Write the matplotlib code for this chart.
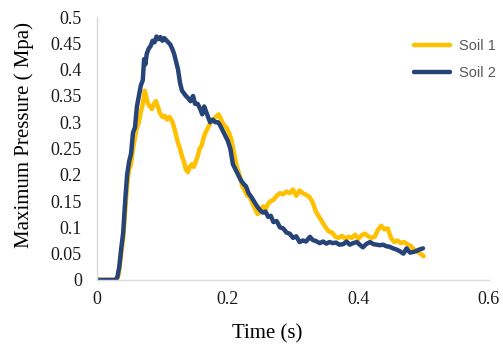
import matplotlib
matplotlib.use("Agg")
import matplotlib.pyplot as plt
from matplotlib.ticker import FuncFormatter

# ---- data ----
soil1_t = [0, 0.02, 0.03, 0.033, 0.036, 0.04, 0.043, 0.046, 0.049, 0.052, 0.055, 0.058, 0.061,
           0.064, 0.067, 0.07, 0.073, 0.075, 0.078, 0.081, 0.084, 0.087, 0.09, 0.093, 0.096,
           0.1, 0.104, 0.107, 0.111, 0.115, 0.118, 0.121, 0.124, 0.127, 0.13, 0.133, 0.136,
           0.139, 0.142, 0.145, 0.148, 0.151, 0.154, 0.157, 0.16, 0.163, 0.166, 0.17, 0.174,
           0.178, 0.182, 0.186, 0.19, 0.194, 0.198, 0.202, 0.206, 0.21, 0.214, 0.218, 0.222,
           0.226, 0.23, 0.234, 0.238, 0.242, 0.246, 0.25, 0.254, 0.258, 0.262, 0.266, 0.27,
           0.275, 0.28, 0.285, 0.29, 0.295, 0.3, 0.305, 0.31, 0.315, 0.32, 0.325, 0.33, 0.335,
           0.34, 0.345, 0.35, 0.355, 0.36, 0.365, 0.37, 0.375, 0.38, 0.385, 0.39, 0.395, 0.4,
           0.405, 0.41, 0.415, 0.42, 0.425, 0.43, 0.435, 0.44, 0.445, 0.45, 0.455, 0.46, 0.465,
           0.47, 0.475, 0.48, 0.485, 0.49, 0.495, 0.5]
soil1_p = [0, 0, 0, 0.01, 0.04, 0.08, 0.13, 0.18, 0.21, 0.22, 0.25, 0.27, 0.29,
           0.30, 0.32, 0.335, 0.36, 0.35, 0.335, 0.33, 0.325, 0.335, 0.34, 0.33, 0.318,
           0.31, 0.312, 0.305, 0.31, 0.302, 0.29, 0.275, 0.26, 0.25, 0.235, 0.225, 0.21,
           0.205, 0.215, 0.22, 0.215, 0.225, 0.235, 0.25, 0.255, 0.27, 0.28, 0.29, 0.30,
           0.305, 0.31, 0.315, 0.305, 0.295, 0.29, 0.28, 0.265, 0.24, 0.215, 0.2, 0.18,
           0.17, 0.16, 0.158, 0.145, 0.135, 0.125, 0.13, 0.14, 0.135, 0.145, 0.15, 0.152,
           0.16, 0.165, 0.163, 0.168, 0.165, 0.172, 0.16, 0.17, 0.165, 0.162, 0.158, 0.148, 0.13,
           0.12, 0.11, 0.1, 0.092, 0.09, 0.082, 0.08, 0.084, 0.078, 0.082, 0.08, 0.086, 0.078,
           0.085, 0.088, 0.083, 0.08, 0.082, 0.095, 0.103, 0.096, 0.098, 0.08, 0.072, 0.075, 0.07,
           0.072, 0.068, 0.065, 0.058, 0.055, 0.05, 0.045]

soil2_t = [0, 0.01, 0.02, 0.028, 0.031, 0.034, 0.037, 0.04, 0.043, 0.046, 0.049, 0.052, 0.055,
           0.058, 0.061, 0.064, 0.067, 0.07, 0.072, 0.074, 0.076, 0.079, 0.082, 0.085, 0.088,
           0.091, 0.094, 0.097, 0.1, 0.103, 0.106, 0.109, 0.112, 0.115, 0.118, 0.121, 0.124,
           0.127, 0.13, 0.133, 0.136, 0.14, 0.143, 0.147, 0.15, 0.154, 0.158, 0.161, 0.164,
           0.167, 0.17, 0.173, 0.177, 0.181, 0.185, 0.188, 0.192, 0.196, 0.2, 0.204, 0.208,
           0.212, 0.216, 0.22, 0.224, 0.228, 0.232, 0.236, 0.24, 0.245, 0.25, 0.254, 0.258,
           0.262, 0.266, 0.27, 0.275, 0.28, 0.285, 0.29, 0.295, 0.3, 0.305, 0.31, 0.315, 0.32,
           0.326, 0.33, 0.335, 0.341, 0.346, 0.351, 0.356, 0.361, 0.366, 0.371, 0.377, 0.382,
           0.387, 0.392, 0.398, 0.403, 0.407, 0.412, 0.418, 0.423, 0.428, 0.433, 0.438, 0.443,
           0.448, 0.453, 0.458, 0.463, 0.469, 0.474, 0.479, 0.484, 0.489, 0.494, 0.499]
soil2_p = [0, 0, 0, 0, 0.005, 0.025, 0.06, 0.09, 0.15, 0.2, 0.225, 0.24, 0.28,
           0.29, 0.33, 0.35, 0.37, 0.38, 0.42, 0.41, 0.43, 0.44, 0.445, 0.455, 0.452,
           0.463, 0.458, 0.462, 0.455, 0.46, 0.456, 0.452, 0.448, 0.44, 0.43, 0.415, 0.40,
           0.375, 0.36, 0.355, 0.35, 0.345, 0.34, 0.35, 0.335, 0.335, 0.325, 0.315, 0.33,
           0.32, 0.31, 0.30, 0.305, 0.30, 0.30, 0.295, 0.285, 0.275, 0.265, 0.25, 0.22,
           0.21, 0.20, 0.19, 0.183, 0.178, 0.165, 0.158, 0.15, 0.14, 0.132, 0.128, 0.13,
           0.12, 0.122, 0.11, 0.112, 0.1, 0.098, 0.09, 0.088, 0.08, 0.083, 0.072, 0.075, 0.073,
           0.082, 0.076, 0.074, 0.07, 0.073, 0.069, 0.072, 0.07, 0.071, 0.067, 0.068, 0.073,
           0.067, 0.07, 0.072, 0.066, 0.062, 0.068, 0.072, 0.068, 0.067, 0.066, 0.067, 0.064,
           0.063, 0.06, 0.058, 0.055, 0.05, 0.06, 0.052, 0.053, 0.055, 0.058, 0.06]

x_ticks = [0, 0.2, 0.4, 0.6]
y_ticks = [0, 0.05, 0.1, 0.15, 0.2, 0.25, 0.3, 0.35, 0.4, 0.45, 0.5]
series_names = ["Soil 1", "Soil 2"]

# ---- figure ----
fig = plt.figure(figsize=(5.03, 3.49), dpi=100)
ax = fig.add_axes([0.193, 0.198, 0.779, 0.753])

ax.plot(soil1_t, soil1_p, color="#FFC000", lw=3.2, label=series_names[0],
        solid_joinstyle="round", solid_capstyle="round")
ax.plot(soil2_t, soil2_p, color="#264478", lw=3.2, label=series_names[1],
        solid_joinstyle="round", solid_capstyle="round")

ax.set_xlim(0, 0.6)
ax.set_ylim(0, 0.5)
ax.set_xticks(x_ticks)
ax.set_yticks(y_ticks)
fmt = FuncFormatter(lambda v, p: f"{v:g}")
ax.xaxis.set_major_formatter(fmt)
ax.yaxis.set_major_formatter(fmt)
ax.tick_params(length=0, labelsize=13, labelcolor="#1a1a1a")
ax.tick_params(axis="x", pad=8)
ax.tick_params(axis="y", pad=11)
for lbl in ax.get_xticklabels() + ax.get_yticklabels():
    lbl.set_fontfamily("Liberation Serif")

for s in ["top", "right"]:
    ax.spines[s].set_visible(False)
for s in ["left", "bottom"]:
    ax.spines[s].set_color("#d9d9d9")
    ax.spines[s].set_linewidth(1.0)

ax.set_xlabel("Time (s)", fontfamily="Liberation Serif", fontsize=15)
ax.set_ylabel("Maximum Pressure ( Mpa)", fontfamily="Liberation Serif", fontsize=15)
ax.xaxis.set_label_coords(0.434, -0.168)
ax.yaxis.set_label_coords(-0.161, 0.551)

leg = ax.legend(loc="upper left", bbox_to_anchor=(0.797, 0.925), bbox_transform=fig.transFigure,
                frameon=False, handlelength=2.5, handletextpad=0.6, labelspacing=0.9,
                prop={"family": "Liberation Sans", "size": 10.5})
for t in leg.get_texts():
    t.set_color("#595959")

fig.savefig("out.png", dpi=100)
